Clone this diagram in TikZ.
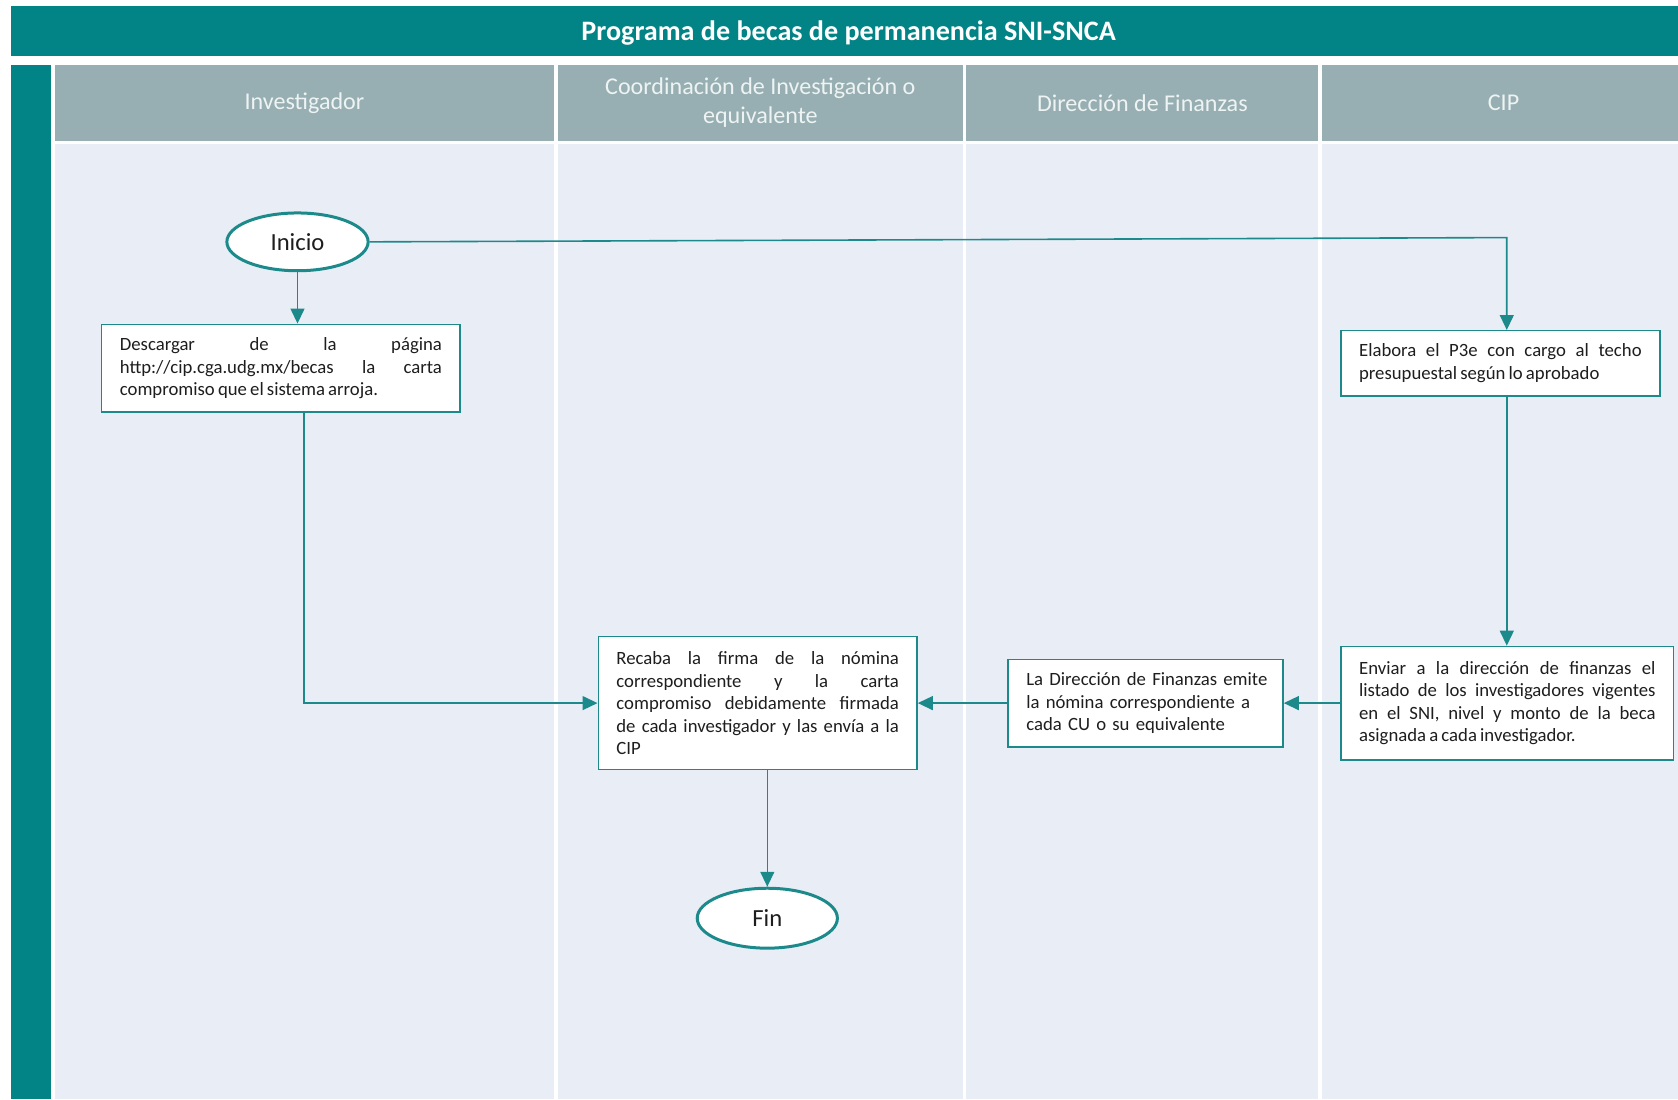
\documentclass[tikz,border=0pt]{standalone}
\usepackage{fontspec}
\setmainfont{Carlito}
\usetikzlibrary{arrows.meta,shapes.geometric}

\definecolor{flowteal}{HTML}{028385}
\definecolor{headgray}{HTML}{97AFB2}
\definecolor{lanebg}{HTML}{E9EDF6}
\definecolor{linecol}{HTML}{1C8A8B}
\definecolor{textdark}{HTML}{1E1E1E}
\definecolor{headtext}{HTML}{EEF3F3}

% tight word spacing for the step texts
\newcommand{\boxfont}{\fontsize{17.5}{21}\selectfont\spaceskip=0.17em plus 1em minus 0.02em\relax}

\tikzset{
  lanehead/.style={fill=headgray, draw=none},
  lanebody/.style={fill=lanebg, draw=none},
  headlabel/.style={text=headtext, font=\fontsize{22.5}{27}\selectfont, align=center},
  stepbox/.style={draw=linecol, line width=1.3pt, fill=white, text=textdark,
    font=\boxfont, align=justify, inner xsep=17pt, inner ysep=4pt},
  terminal/.style={ellipse, draw=linecol, line width=2.8pt, fill=white, text=textdark,
    font=\fontsize{23}{26}\selectfont, inner sep=0pt},
  flow/.style={draw=linecol, line width=1.5pt, -{Triangle[length=14pt,width=13pt]}},
}

\begin{document}
\begin{tikzpicture}[x=1pt, y=-1pt]
  \useasboundingbox[fill=white] (0,0) rectangle (1568,1027);

  % title bar and side band
  \fill[flowteal] (10,6) rectangle (1568,52);
  \node[text=white, font=\bfseries\fontsize{26.3}{30}\selectfont] (title) at (793,31)
    {Programa de becas de permanencia SNI-SNCA};
  \fill[flowteal] (10,61) rectangle (48,1027);

  % lane headers
  \fill[lanehead] (51,61) rectangle (518,132);
  \fill[lanehead] (521,61) rectangle (900,132);
  \fill[lanehead] (903,61) rectangle (1232,132);
  \fill[lanehead] (1235,61) rectangle (1568,132);

  % lane bodies
  \fill[lanebody] (51,135) rectangle (518,1027);
  \fill[lanebody] (521,135) rectangle (900,1027);
  \fill[lanebody] (903,135) rectangle (1232,1027);
  \fill[lanebody] (1235,135) rectangle (1568,1027);

  \node[headlabel] (h1) at (284.5,96) {Investigador};
  \node[headlabel] (h2) at (710.5,96) {Coordinación de Investigación o\\equivalente};
  \node[headlabel] (h3) at (1067.5,96) {Dirección de Finanzas};
  \node[headlabel] (h4) at (1405,96) {CIP};

  % steps
  \node[terminal, minimum width=132pt, minimum height=54pt] (inicio) at (278,226) {Inicio};

  \node[stepbox, text width=301pt, minimum height=82pt] (descargar) at (262.5,344)
    {Descargar de la página\linebreak http://cip.cga.udg.mx/becas la carta\linebreak compromiso que el sistema arroja.};

  \node[stepbox, text width=264pt, minimum height=61pt] (elabora) at (1402,339.5)
    {Elabora el P3e con cargo al techo\linebreak presupuestal según lo aprobado};

  \node[stepbox, text width=264pt, minimum height=124pt] (recaba) at (708,657)
    {Recaba la firma de la nómina\linebreak correspondiente y la carta\linebreak compromiso debidamente firmada\linebreak de cada investigador y las envía a la\linebreak CIP};

  \node[stepbox, text width=231pt, inner xsep=13pt, minimum height=82pt, align=left] (direccion) at (1070.5,657)
    {\hspace*{4pt}La Dirección de Finanzas emite\\\hspace*{4pt}la nómina correspondiente a\\\hspace*{4pt}cada CU o su equivalente};

  \node[stepbox, text width=277pt, minimum height=106pt] (enviar) at (1408.5,657)
    {Enviar a la dirección de finanzas el\linebreak listado de los investigadores vigentes\linebreak en el SNI, nivel y monto de la beca\linebreak asignada a cada investigador.};

  \node[terminal, minimum width=131pt, minimum height=56pt] (fin) at (717,858) {Fin};

  % connectors
  \coordinate (turn) at (1408,222);
  \coordinate (drop) at (284,657);

  \draw[flow] (inicio.south) -- (inicio.south |- descargar.north);
  \draw[flow] (inicio.east) -- (turn) -- (turn |- elabora.north);
  \draw[flow] (elabora.south -| turn) -- (turn |- enviar.north);
  \draw[flow] (descargar.south -| drop) -- (drop) -- (recaba.west);
  \draw[flow] (enviar.west) -- (direccion.east);
  \draw[flow] (direccion.west) -- (recaba.east);
  \draw[flow] (recaba.south -| fin.north) -- (fin.north);
\end{tikzpicture}
\end{document}
